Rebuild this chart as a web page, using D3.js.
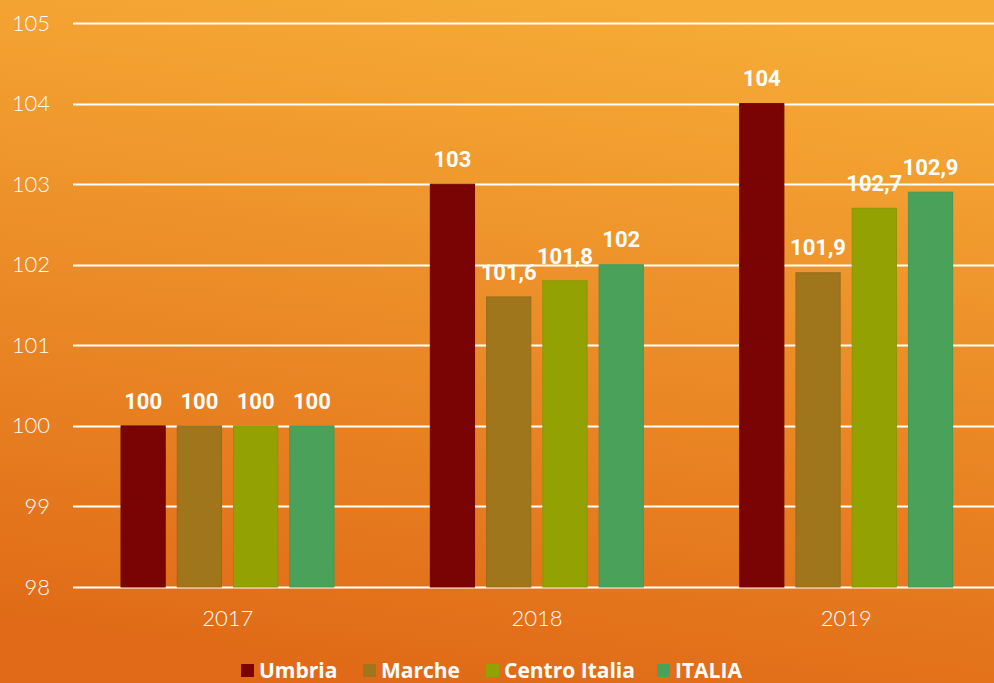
<!DOCTYPE html>
<html><head><meta charset="utf-8">
<script src="https://cdn.jsdelivr.net/npm/d3@7"></script>
<style>
html,body{margin:0;padding:0;background:#e8821f;}
svg{display:block;}
</style></head>
<body>
<svg id="chart" width="994" height="683"></svg>
<script>
const years = ["2017", "2018", "2019"];
const seriesNames = ["Umbria", "Marche", "Centro Italia", "ITALIA"];
const umbria = [100, 103, 104];
const marche = [100, 101.6, 101.9];
const centroItalia = [100, 101.8, 102.7];
const italia = [100, 102, 102.9];
const yTicks = [98, 99, 100, 101, 102, 103, 104, 105];
const colors = ["#7a0404", "#a0761c", "#93a202", "#4aa25a"];

const seriesValues = [umbria, marche, centroItalia, italia];
const W = 994, H = 683;
const svg = d3.select("#chart");

const defs = svg.append("defs");
const grad = defs.append("linearGradient").attr("id", "bg")
  .attr("x1", "0.6").attr("y1", "0").attr("x2", "0.4").attr("y2", "1");
grad.append("stop").attr("offset", "0").attr("stop-color", "#f6ab36");
grad.append("stop").attr("offset", "1").attr("stop-color", "#e06a17");
svg.append("rect").attr("width", W).attr("height", H).attr("fill", "url(#bg)");

const x0 = d3.scaleBand().domain(years).range([73, 1001]).paddingInner(0).paddingOuter(0);
const x1 = d3.scaleBand().domain(seriesNames).range([48, 261]).paddingInner(0.214).paddingOuter(0);
const y = d3.scaleLinear().domain([98, 105]).range([587, 23]);

const tickFont = "'Century Gothic','Lato','Open Sans',sans-serif";

// gridlines
svg.append("g").selectAll("line").data(yTicks).join("line")
  .attr("x1", 73).attr("x2", W)
  .attr("y1", d => Math.round(y(d)) + 0.5).attr("y2", d => Math.round(y(d)) + 0.5)
  .attr("stroke", "#ffffff").attr("stroke-width", 2);

// y axis labels
const yAxis = d3.axisLeft(y).tickValues(yTicks).tickSize(0).tickPadding(0).tickFormat(d3.format("d"));
const gy = svg.append("g").attr("transform", "translate(50,0)").call(yAxis);
gy.select(".domain").remove();
gy.selectAll("text").attr("fill", "#ffffff").style("font-family", tickFont)
  .style("font-weight", "300").style("font-size", "22px");

// x axis labels
const xAxis = d3.axisBottom(x0).tickSize(0).tickPadding(0);
const gx = svg.append("g").attr("transform", "translate(0,618)").call(xAxis);
gx.select(".domain").remove();
gx.selectAll("text").attr("fill", "#ffffff").style("font-family", tickFont)
  .style("font-weight", "300").style("font-size", "22px").attr("y", 0).attr("dy", "0.35em");

// bars
const data = [];
years.forEach((yr, i) => seriesNames.forEach((s, j) => data.push({ yr, s, j, v: seriesValues[j][i] })));
svg.append("g").selectAll("rect").data(data).join("rect")
  .attr("x", d => x0(d.yr) + x1(d.s))
  .attr("width", x1.bandwidth())
  .attr("y", d => y(d.v))
  .attr("height", d => y(98) - y(d.v))
  .attr("fill", d => colors[d.j])
  .attr("stroke", d => d3.color(colors[d.j]).darker(0.2))
  .attr("stroke-width", 1);

const fmt = v => String(v).replace(".", ",");
svg.append("g").selectAll("text").data(data).join("text")
  .attr("x", d => x0(d.yr) + x1(d.s) + x1.bandwidth() / 2)
  .attr("y", d => y(d.v) - 25)
  .attr("dy", "0.35em")
  .attr("text-anchor", "middle")
  .attr("fill", "#ffffff")
  .style("font-family", "Roboto,'Liberation Sans',sans-serif")
  .style("font-weight", "bold").style("font-size", "22px")
  .text(d => fmt(d.v));

// legend
const legendX = [241, 363, 486, 657];
const lg = svg.append("g").selectAll("g").data(seriesNames).join("g")
  .attr("transform", (d, i) => `translate(${legendX[i]},664)`);
lg.append("rect").attr("width", 13).attr("height", 13).attr("fill", (d, i) => colors[i]);
lg.append("text").attr("x", 18).attr("y", 7).attr("dy", "0.35em")
  .attr("fill", "#ffffff")
  .style("font-family", "'Century Gothic','Open Sans',sans-serif")
  .style("font-weight", "bold").style("font-size", "21px")
  .text(d => d);
</script>
</body></html>
